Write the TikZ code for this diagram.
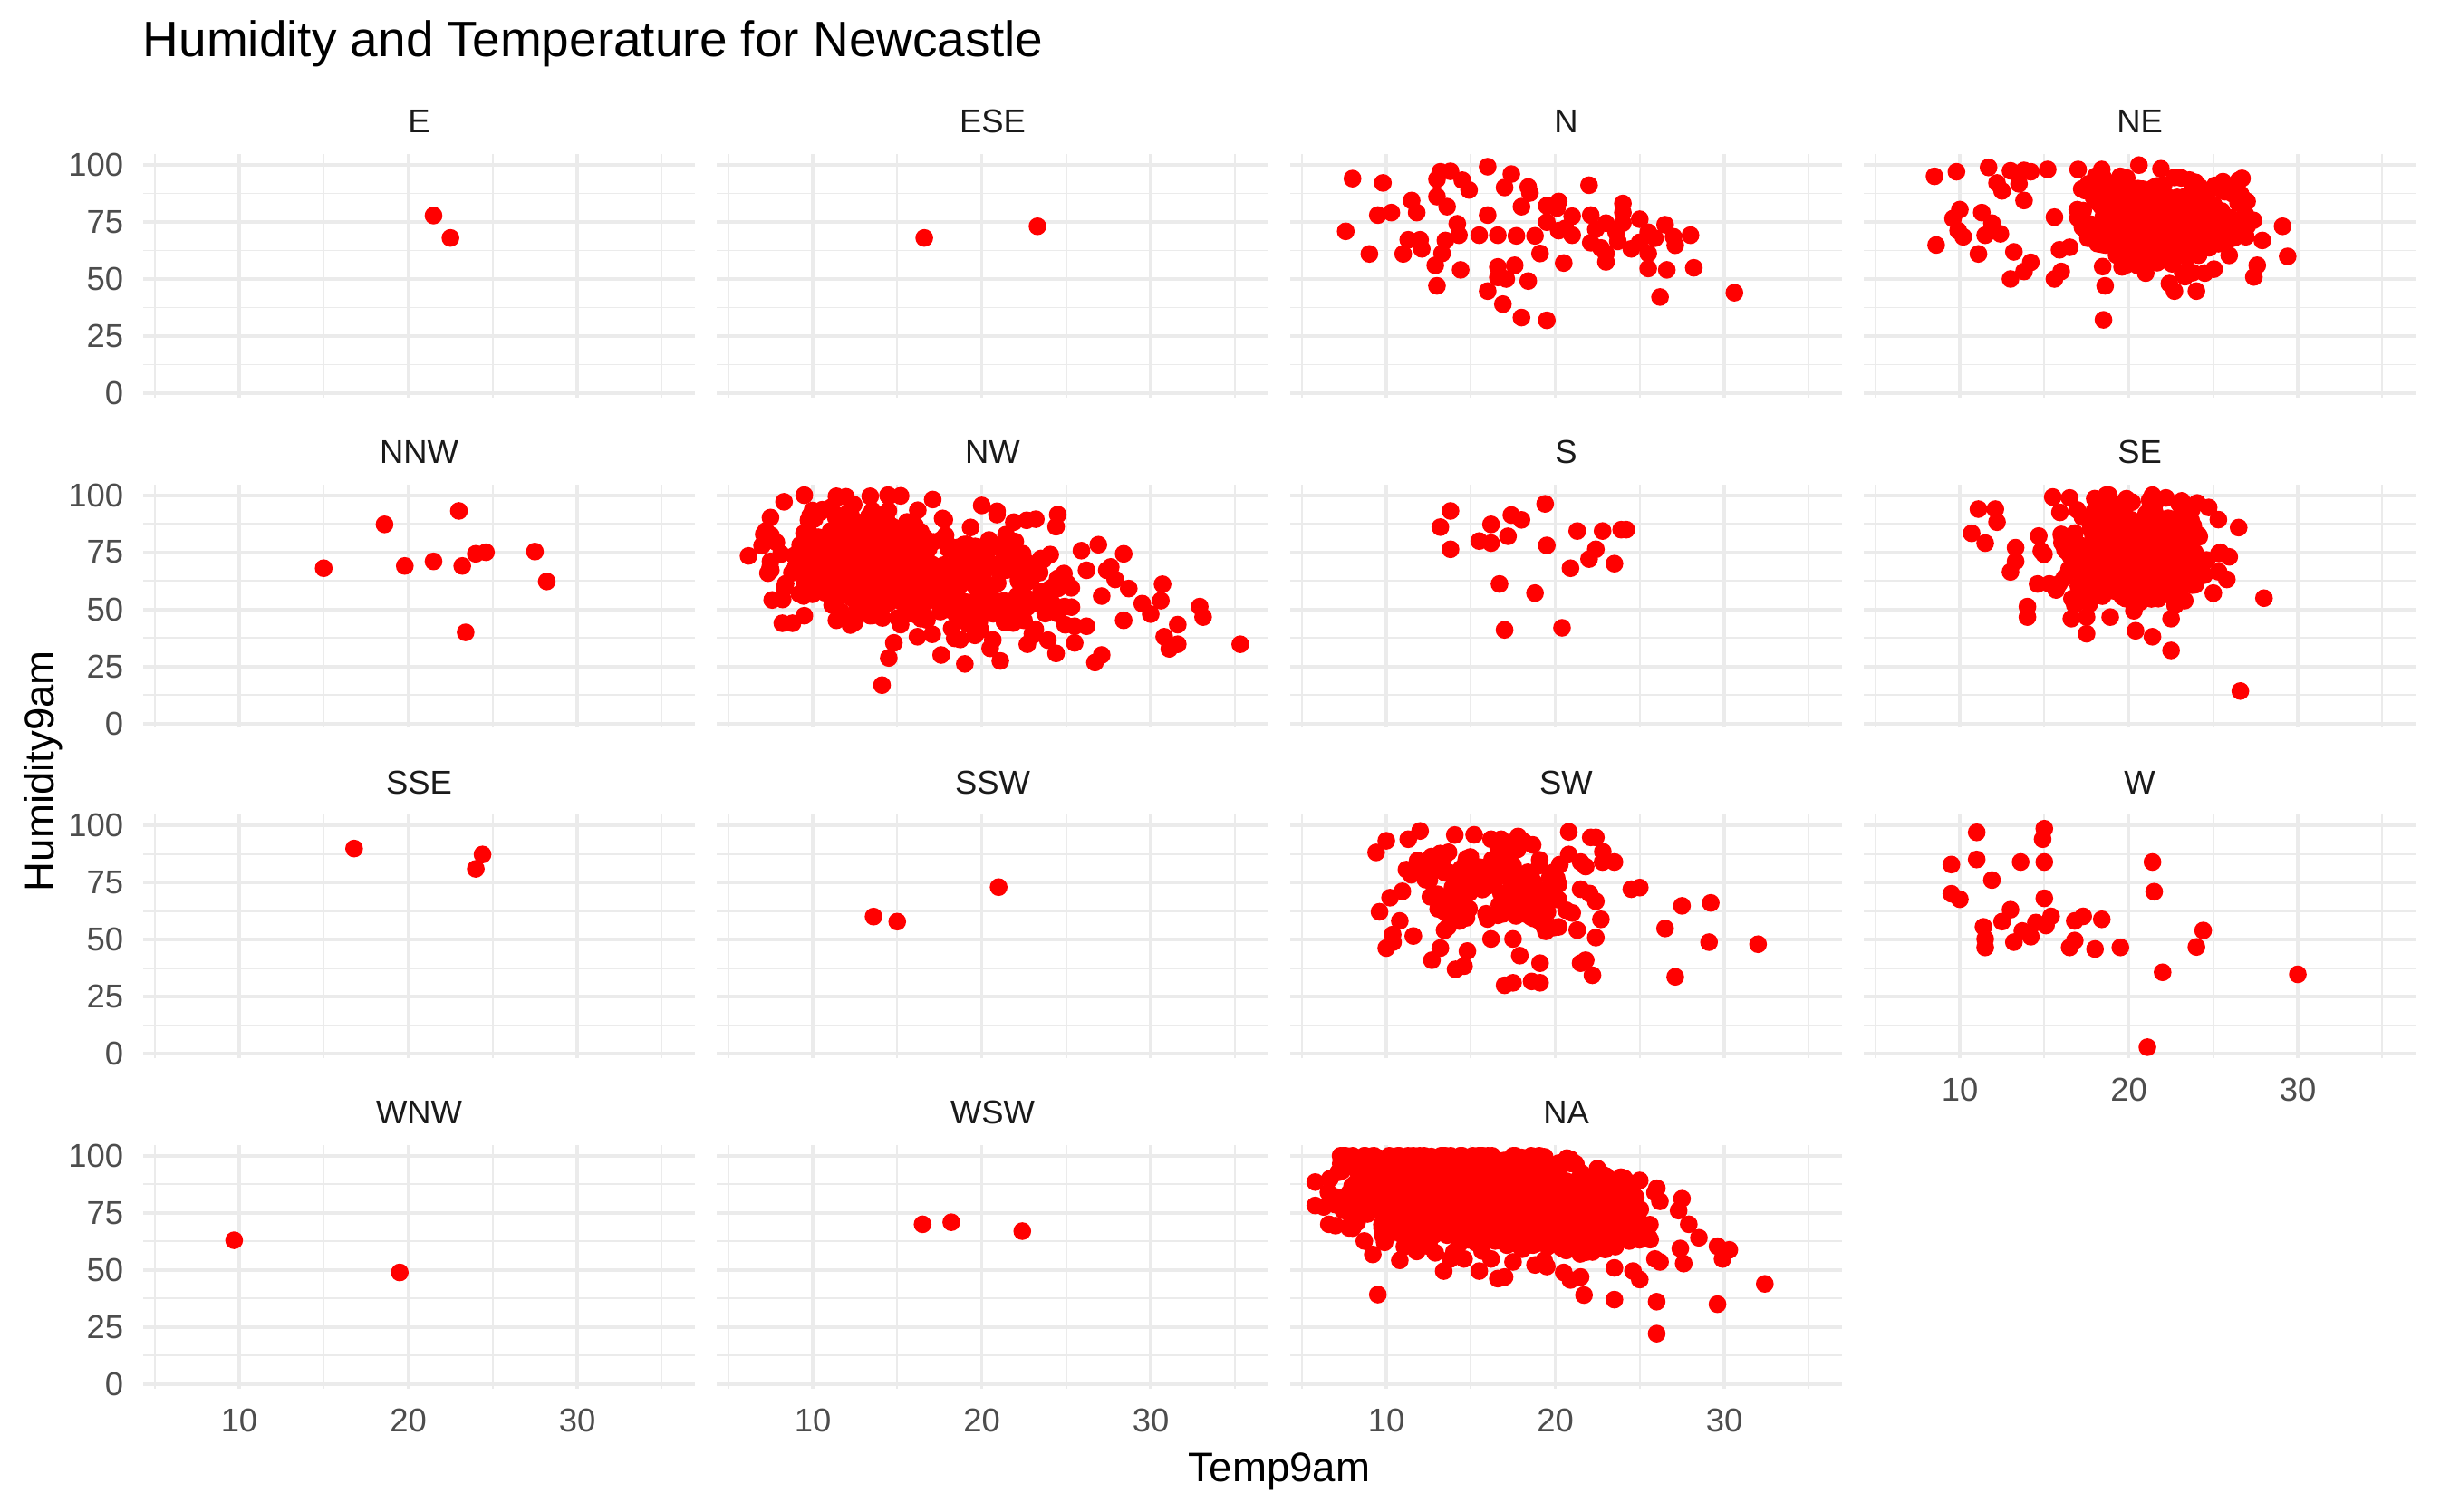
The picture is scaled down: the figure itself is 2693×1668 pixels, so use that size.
\documentclass[tikz,border=0pt]{standalone}
\usepackage{fontspec}
\setmainfont{Liberation Sans}
\definecolor{gridc}{HTML}{EBEBEB}
\definecolor{tickc}{HTML}{4D4D4D}
\definecolor{stripc}{HTML}{1A1A1A}
\definecolor{ptc}{HTML}{FF0000}
\tikzset{
  redpt/.style={fill=ptc},
  majorg/.style={draw=gridc, line width=0.95pt},
  minorg/.style={draw=gridc, line width=0.48pt},
  panel/.style 2 args={xshift={(77.5+633*#1)*0.25pt}, yshift={-(434+364.6*#2)*0.25pt}, x=4.6625pt, y=0.63pt},
  strip/.style={text=stripc, font=\fontsize{9.1}{10}\selectfont, inner sep=0pt, anchor=base},
  ytick/.style={text=tickc, font=\fontsize{9.1}{10}\selectfont, inner sep=0pt, anchor=east},
  xtick/.style={text=tickc, font=\fontsize{9.1}{10}\selectfont, inner sep=0pt, anchor=base},
  axtitle/.style={text=black, font=\fontsize{11.4}{13}\selectfont, inner sep=0pt, anchor=base},
}
\newcommand\mydots[1]{\foreach \a/\b in {#1}{\fill[redpt] (\a,\b) circle[radius=2.45pt];}}
\newcommand\mycloud[6]{\foreach \i in {1,...,#1}{%
  \pgfmathsetmacro\cT{min(35.4,max(5.8,#2+#3*(rand+rand+rand)))}%
  \pgfmathsetmacro\cH{min(100,max(3,#4+#5*(rand+rand+rand)+(#6)*(\cT-#2)))}%
  \fill[redpt] (\cT,\cH) circle[radius=2.45pt];}}
\newcommand\panelgrid{%
  \foreach \v in {12.5,37.5,62.5,87.5} \draw[minorg] (4.32,\v) -- (36.97,\v);
  \foreach \v in {5,15,25,35} \draw[minorg] (\v,-1.9) -- (\v,104.8);
  \foreach \v in {0,25,50,75,100} \draw[majorg] (4.32,\v) -- (36.97,\v);
  \foreach \v in {10,20,30} \draw[majorg] (\v,-1.9) -- (\v,104.8);
}
\newcommand\stripname[3]{\node[strip] (s#3) at ({462.5+633*#1},{147+364.6*#2}) {#3};}
\begin{document}
\begin{tikzpicture}[x=0.25pt, y=-0.25pt]
\pgfmathsetseed{20240}
\useasboundingbox[fill=white] (0,0) rectangle (2693,1668);
% title
\node[anchor=base west, inner sep=0pt, font=\fontsize{13.75}{15}\selectfont] (title) at (157,63) {Humidity and Temperature for Newcastle};
% ---- row 1
\begin{scope}[panel={0}{0}]\panelgrid
\mydots{21.5/77.8, 22.5/68}
\end{scope}\stripname{0}{0}{E}
\begin{scope}[panel={1}{0}]\panelgrid
\mydots{16.6/68.0, 23.3/73.1}
\end{scope}\stripname{1}{0}{ESE}
\begin{scope}[panel={2}{0}]\panelgrid
\mydots{8.0/94.0, 9.8/92.1, 13.2/97.0, 13.8/97.2, 13.0/93.7, 16.0/99.2, 17.4/96.0, 14.5/93.3, 14.9/89.0, 17.0/90.1, 18.4/90.3, 18.5/87.7, 22.0/91.1, 11.5/84.4, 13.0/86.1, 13.6/81.7, 11.8/79.1, 9.5/78.0, 10.3/79.1, 16.0/78.0, 18.0/81.7, 19.5/82.1, 20.2/84.0, 20.1/81.1, 24.0/83.1, 24.0/79.1, 7.6/70.9, 14.2/74.2, 19.5/74.9, 21.0/77.5, 22.1/78.0, 23.0/74.5, 25.0/76.2, 26.5/73.8, 11.3/67.2, 12.0/67.2, 13.5/66.9, 14.3/69.2, 15.5/69.2, 16.6/69.2, 17.7/68.9, 18.8/68.9, 20.2/71.2, 20.6/72.2, 21.0/69.2, 22.4/71.8, 23.6/70.5, 24.0/74.5, 25.5/70.5, 25.9/67.9, 27.0/68.5, 28.0/69.2, 22.1/65.9, 22.7/63.6, 23.7/66.5, 25.0/66.1, 24.5/63.2, 27.1/64.8, 9.0/61.0, 11.0/61.0, 12.1/63.2, 13.3/61.2, 19.1/61.2, 23.0/61.2, 25.5/61.2, 12.9/56.0, 14.4/54.0, 16.6/55.3, 17.6/56.0, 20.5/57.0, 23.0/57.5, 25.5/54.6, 26.6/54.0, 28.2/54.9, 16.6/50.7, 17.1/50.0, 13.0/47.0, 18.4/49.1, 16.0/44.7, 16.9/39.0, 18.0/33.1, 19.5/31.9, 26.2/42.1, 30.6/44.0}
\end{scope}\stripname{2}{0}{N}
\begin{scope}[panel={3}{0}]\panelgrid
\mycloud{360}{22.2}{1.9}{73}{8.5}{0}
\mycloud{60}{18.8}{0.9}{78}{9}{0}
\mydots{8.5/95.0, 9.8/97.0, 11.7/98.9, 13.0/97.4, 13.8/97.6, 14.2/97.0, 15.2/98.0, 17.0/98.0, 18.4/98.0, 20.6/99.9, 19.5/95.0, 21.9/98.3, 12.2/92.1, 13.5/91.7, 12.5/88.6, 13.8/84.4, 17.6/91.7, 10.0/80.4, 11.3/79.1, 9.6/76.5, 11.9/74.5, 9.9/71.2, 10.2/68.5, 11.5/69.2, 12.4/69.8, 8.6/64.9, 11.1/61.0, 13.2/61.9, 15.6/77.1, 15.9/62.8, 16.5/63.9, 14.2/57.3, 13.8/53.3, 13.0/50.0, 16.0/53.3, 15.6/50.0, 18.6/47.0, 18.5/32.1, 19.6/55.3, 21.0/52.6, 20.5/56.0, 27.0/84.0, 29.1/73.1, 29.4/59.9, 27.9/66.9, 27.6/56.0, 27.4/50.9, 27.0/73.1, 25.5/79.8, 25.1/91.0, 24.2/90.3, 23.1/94.3, 22.4/48.0, 22.7/44.7, 24.0/44.7, 24.5/52.6, 23.2/52.6}
\end{scope}\stripname{3}{0}{NE}
% ---- row 2
\begin{scope}[panel={0}{1}]\panelgrid
\mydots{15.0/68.0, 18.6/87.2, 19.8/69.0, 21.5/71.0, 23.0/93.1, 23.2/69.0, 24.0/74.3, 24.6/75.0, 27.5/75.3, 28.2/62.2, 23.4/39.9}
\end{scope}\stripname{0}{1}{NNW}
\begin{scope}[panel={1}{1}]\panelgrid
\mycloud{460}{12.8}{2.1}{71}{11}{-0.5}
\mycloud{200}{20.3}{2.7}{62}{12}{-1}
\mydots{6.2/73.4, 7.5/71.0, 7.5/90.2, 7.1/82.9, 7.0/77.9, 8.3/97.1, 9.5/100, 11.4/99.5, 13.4/99.5, 15.2/99.7, 17.1/98.1, 20.0/95.5, 20.9/91.5, 21.9/88.2, 23.2/89.5, 24.5/91.5, 24.4/86.2, 7.6/54.1, 8.2/43.9, 8.8/43.9, 9.5/47.2, 11.4/45.2, 13.4/47.2, 14.1/16.8, 14.5/28.7, 14.8/35.3, 16.2/38.0, 17.6/30.0, 18.4/37.3, 19.0/26.1, 19.6/38.6, 20.5/32.9, 21.1/27.4, 22.7/34.7, 24.4/30.7, 25.5/35.3, 26.2/42.6, 26.7/26.7, 27.1/30.0, 28.4/45.2, 28.4/74.3, 26.9/78.3, 25.9/75.7, 26.2/67.1, 27.4/67.1, 27.9/63.1, 28.7/59.1, 29.5/52.5, 30.0/47.9, 30.6/53.8, 30.7/61.0, 30.8/38.0, 31.1/32.7, 31.6/34.7, 31.6/43.3, 32.9/51.2, 33.1/46.6, 35.3/34.7, 23.9/56.5, 24.9/51.2, 25.5/42.6, 27.1/55.8, 22.5/45.2, 23.0/39.3, 21.7/51.2, 19.1/49.9, 16.4/45.9, 15.2/43.3}
\end{scope}\stripname{1}{1}{NW}
\begin{scope}[panel={2}{1}]\panelgrid
\mydots{13.8/93.1, 13.2/86.0, 16.2/87.2, 17.4/91.3, 18.0/89.2, 19.4/96.2, 15.5/79.9, 16.2/79.0, 17.2/82.0, 13.8/76.3, 19.5/78.0, 21.3/84.3, 22.8/84.3, 23.9/84.9, 24.2/84.9, 22.4/76.3, 22.0/72.0, 20.9/68.0, 23.5/70.0, 16.7/61.1, 18.8/57.1, 17.0/41.0, 20.4/41.9}
\end{scope}\stripname{2}{1}{S}
\begin{scope}[panel={3}{1}]\panelgrid
\mycloud{420}{20.2}{2.1}{76}{10.5}{0}
\mydots{11.1/93.9, 12.1/93.9, 12.2/88.2, 10.7/83.3, 11.5/79.0, 13.3/77.0, 13.3/71.0, 13.0/66.4, 14.6/61.1, 15.7/58.5, 14.0/51.2, 14.0/46.6, 16.6/45.9, 17.5/46.6, 18.9/46.6, 17.5/39.3, 20.4/40.6, 21.4/38.0, 22.5/32.0, 22.5/45.9, 26.6/14.2, 28.0/54.9, 26.5/85.8, 25.3/89.3, 25.0/57.1, 25.8/63.1, 23.5/94.8, 22.2/98.8, 15.5/99.2, 16.5/98.8, 16.8/51.9}
\end{scope}\stripname{3}{1}{SE}
% ---- row 3
\begin{scope}[panel={0}{2}]\panelgrid
\mydots{16.8/89.9, 24.4/87.3, 24.0/81.0}
\end{scope}\stripname{0}{2}{SSE}
\begin{scope}[panel={1}{2}]\panelgrid
\mydots{13.6/60.1, 15.0/57.9, 21.0/73.0}
\end{scope}\stripname{1}{2}{SSW}
\begin{scope}[panel={2}{2}]\panelgrid
\mycloud{140}{16}{2.6}{73}{10}{0}
\mydots{9.4/88.2, 10.0/93.3, 9.6/62.2, 10.0/46.3, 10.4/48.9, 10.8/58.2, 11.6/51.6, 12.7/41.0, 13.2/46.3, 14.1/37.0, 14.6/38.4, 14.8/45.0, 16.2/50.3, 17.0/30.0, 17.5/31.1, 18.6/31.7, 19.1/31.1, 19.1/39.7, 17.9/43.0, 17.5/50.3, 21.5/39.7, 21.8/41.0, 22.2/34.4, 22.4/50.9, 26.5/54.9, 27.5/64.8, 29.2/66.1, 29.1/48.9, 32.0/48.0, 27.1/33.7, 25.0/72.8, 24.5/72.1, 23.5/84.0, 22.8/84.0, 22.1/94.8, 22.4/94.8, 20.8/97.2, 20.8/87.3, 21.8/82.0, 21.5/72.1, 20.2/67.5, 22.4/66.8, 22.7/58.9, 21.3/54.2, 20.2/55.6, 19.3/56.2, 15.2/95.9, 16.2/94.0, 16.8/94.0, 17.8/95.2, 12.0/97.6, 11.3/94.0}
\end{scope}\stripname{2}{2}{SW}
\begin{scope}[panel={3}{2}]\panelgrid
\mydots{9.5/82.9, 9.5/70.1, 10.0/67.7, 11.0/97.0, 11.0/85.1, 11.9/76.1, 13.6/84.0, 15.0/98.6, 14.9/94.0, 15.0/84.0, 15.0/68.1, 13.0/63.1, 12.5/57.9, 11.4/55.6, 11.5/50.3, 11.5/46.6, 13.2/48.9, 13.7/53.8, 14.2/51.3, 14.5/57.5, 15.1/56.2, 15.4/60.2, 16.8/58.2, 17.3/60.2, 18.4/58.9, 16.5/46.6, 16.8/49.6, 18.0/45.9, 19.5/46.6, 21.4/84.0, 21.5/71.0, 22.0/35.7, 24.0/46.8, 24.4/54.0, 30.0/34.8, 21.1/2.9}
\end{scope}\stripname{3}{2}{W}
% ---- row 4
\begin{scope}[panel={0}{3}]\panelgrid
\mydots{9.7/63.0, 19.5/48.9}
\end{scope}\stripname{0}{3}{WNW}
\begin{scope}[panel={1}{3}]\panelgrid
\mydots{16.5/70.0, 18.2/70.9, 22.4/67.0}
\end{scope}\stripname{1}{3}{WSW}
\begin{scope}[panel={2}{3}]\panelgrid
\mycloud{1700}{16}{3.7}{81}{9}{-0.6}
\mydots{5.8/88.5, 7.0/78.6, 6.6/70.0, 7.0/69.4, 7.8/68.4, 8.7/62.7, 9.2/56.8, 9.9/62.1, 9.5/39.2, 10.8/54.2, 11.8/58.1, 12.9/57.5, 13.4/49.5, 13.8/54.8, 14.6/54.8, 15.5/49.5, 16.2/54.8, 16.6/46.2, 17.0/46.9, 17.5/53.5, 18.8/52.2, 19.5/51.5, 20.5/48.9, 20.9/45.6, 21.5/46.9, 21.7/39.0, 23.5/37.0, 23.5/50.9, 24.6/49.5, 25.0/45.8, 25.9/54.8, 26.2/53.5, 26.0/36.1, 26.0/22.1, 27.6/52.8, 27.4/59.4, 28.5/64.1, 27.9/70.0, 27.5/81.2, 29.6/60.4, 30.3/58.8, 29.9/54.8, 29.6/35.0, 32.4/43.9, 25.9/83.9, 25.0/89.2, 27.3/76.0, 7.6/100}
\end{scope}\stripname{2}{3}{NA}
% ---- axis tick labels
\foreach \r in {0,...,3}{\foreach \v in {0,25,50,75,100}{\node[ytick] at (137,{434+364.6*\r-2.52*\v}) {\v};}}
\foreach \c in {0,1,2}{\foreach \v in {10,20,30}{\node[xtick] at ({77.5+633*\c+18.65*\v},1580.5) {\v};}}
\foreach \v in {10,20,30}{\node[xtick] at ({77.5+633*3+18.65*\v},1215.8) {\v};}
% ---- axis titles
\node[axtitle] (xlab) at (1412,1635) {Temp9am};
\node[axtitle, rotate=90] (ylab) at (59,851) {Humidity9am};
\end{tikzpicture}
\end{document}
